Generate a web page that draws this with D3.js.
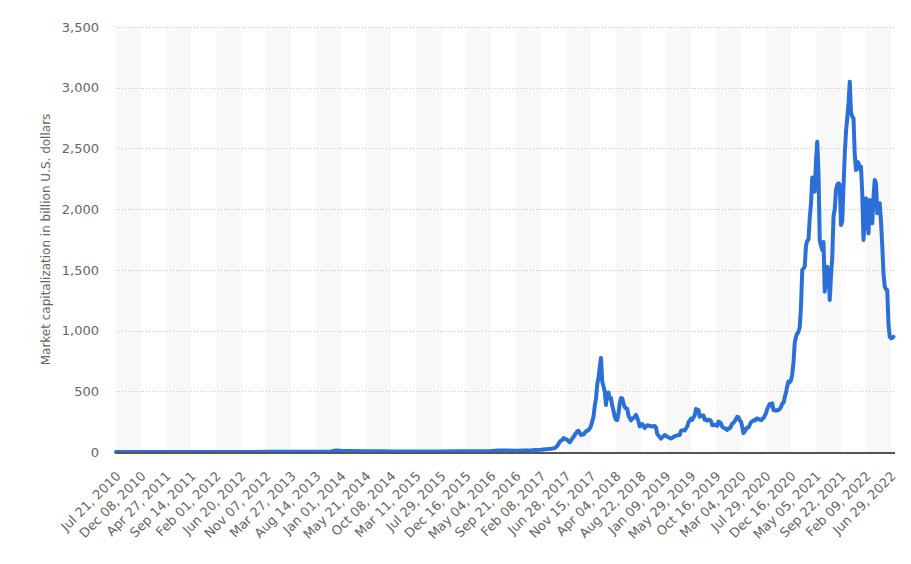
<!DOCTYPE html>
<html>
<head>
<meta charset="utf-8">
<script src="https://cdn.jsdelivr.net/npm/d3@7"></script>
<style>
  body { margin: 0; background: #fff; }
  svg { display: block; }
  text { font-family: "DejaVu Sans", Verdana, sans-serif; }
</style>
</head>
<body>
<svg id="chart" width="911" height="564"></svg>
<script>
// ---------- DATA ----------
const tickLabels = ["Jul 21, 2010","Dec 08, 2010","Apr 27, 2011","Sep 14, 2011","Feb 01, 2012","Jun 20, 2012","Nov 07, 2012","Mar 27, 2013","Aug 14, 2013","Jan 01, 2014","May 21, 2014","Oct 08, 2014","Mar 11, 2015","Jul 29, 2015","Dec 16, 2015","May 04, 2016","Sep 21, 2016","Feb 08, 2017","Jun 28, 2017","Nov 15, 2017","Apr 04, 2018","Aug 22, 2018","Jan 09, 2019","May 29, 2019","Oct 16, 2019","Mar 04, 2020","Jul 29, 2020","Dec 16, 2020","May 05, 2021","Sep 22, 2021","Feb 09, 2022","Jun 29, 2022"];
const tickDates = ["2010-07-21","2010-12-08","2011-04-27","2011-09-14","2012-02-01","2012-06-20","2012-11-07","2013-03-27","2013-08-14","2014-01-01","2014-05-21","2014-10-08","2015-03-11","2015-07-29","2015-12-16","2016-05-04","2016-09-21","2017-02-08","2017-06-28","2017-11-15","2018-04-04","2018-08-22","2019-01-09","2019-05-29","2019-10-16","2020-03-04","2020-07-29","2020-12-16","2021-05-05","2021-09-22","2022-02-09","2022-06-29"];
const yTicks = [0, 500, 1000, 1500, 2000, 2500, 3000, 3500];
const yTitle = "Market capitalization in billion U.S. dollars";

const weekDates = ["2010-07-21","2010-12-08","2011-04-27","2011-06-08","2011-09-14","2012-02-01","2012-06-20","2012-11-07","2013-03-27","2013-04-10","2013-06-19","2013-08-14","2013-11-06","2013-12-04","2014-01-01","2014-02-26","2014-05-21","2014-08-13","2014-10-08","2015-01-14","2015-03-11","2015-07-29","2015-11-04","2015-12-16","2016-05-04","2016-06-15","2016-09-21","2016-12-21","2017-01-04","2017-02-08","2017-03-08","2017-04-05","2017-04-26","2017-05-10","2017-05-24","2017-06-07","2017-06-14","2017-06-28","2017-07-05","2017-07-19","2017-08-02","2017-08-16","2017-08-30","2017-09-06","2017-09-20","2017-10-04","2017-10-18","2017-11-01","2017-11-08","2017-11-15","2017-11-29","2017-12-06","2017-12-13","2017-12-20","2017-12-27","2018-01-03","2018-01-10","2018-01-17","2018-01-24","2018-01-31","2018-02-07","2018-02-14","2018-02-21","2018-02-28","2018-03-07","2018-03-14","2018-03-21","2018-03-28","2018-04-04","2018-04-11","2018-04-18","2018-04-25","2018-05-02","2018-05-09","2018-05-16","2018-05-23","2018-05-30","2018-06-06","2018-06-13","2018-06-20","2018-06-27","2018-07-04","2018-07-11","2018-07-18","2018-07-25","2018-08-01","2018-08-08","2018-08-15","2018-08-22","2018-08-29","2018-09-05","2018-09-12","2018-09-19","2018-09-26","2018-10-10","2018-10-24","2018-11-07","2018-11-14","2018-11-21","2018-11-28","2018-12-05","2018-12-12","2018-12-19","2018-12-26","2019-01-02","2019-01-09","2019-01-16","2019-01-30","2019-02-06","2019-02-13","2019-02-27","2019-03-13","2019-03-27","2019-04-03","2019-04-17","2019-04-24","2019-05-08","2019-05-15","2019-05-22","2019-05-29","2019-06-05","2019-06-12","2019-06-19","2019-06-26","2019-07-03","2019-07-10","2019-07-17","2019-07-24","2019-07-31","2019-08-07","2019-08-14","2019-08-21","2019-08-28","2019-09-04","2019-09-11","2019-09-18","2019-09-25","2019-10-02","2019-10-09","2019-10-16","2019-10-23","2019-10-30","2019-11-06","2019-11-13","2019-11-20","2019-11-27","2019-12-04","2019-12-11","2019-12-18","2019-12-25","2020-01-01","2020-01-08","2020-01-15","2020-01-22","2020-01-29","2020-02-05","2020-02-12","2020-02-19","2020-02-26","2020-03-04","2020-03-11","2020-03-18","2020-03-25","2020-04-01","2020-04-08","2020-04-15","2020-04-22","2020-04-29","2020-05-06","2020-05-13","2020-05-20","2020-05-27","2020-06-03","2020-06-10","2020-06-17","2020-06-24","2020-07-01","2020-07-08","2020-07-15","2020-07-22","2020-07-29","2020-08-05","2020-08-12","2020-08-19","2020-08-26","2020-09-02","2020-09-09","2020-09-16","2020-09-23","2020-09-30","2020-10-07","2020-10-14","2020-10-21","2020-10-28","2020-11-04","2020-11-11","2020-11-18","2020-11-25","2020-12-02","2020-12-09","2020-12-16","2020-12-23","2020-12-30","2021-01-06","2021-01-13","2021-01-20","2021-01-27","2021-02-03","2021-02-10","2021-02-17","2021-02-24","2021-03-03","2021-03-10","2021-03-17","2021-03-24","2021-03-31","2021-04-07","2021-04-14","2021-04-21","2021-04-28","2021-05-05","2021-05-12","2021-05-19","2021-05-26","2021-06-02","2021-06-09","2021-06-16","2021-06-23","2021-06-30","2021-07-07","2021-07-14","2021-07-21","2021-07-28","2021-08-04","2021-08-11","2021-08-18","2021-08-25","2021-09-01","2021-09-08","2021-09-15","2021-09-22","2021-09-29","2021-10-06","2021-10-13","2021-10-20","2021-10-27","2021-11-03","2021-11-10","2021-11-17","2021-11-24","2021-12-01","2021-12-08","2021-12-15","2021-12-22","2021-12-29","2022-01-05","2022-01-12","2022-01-19","2022-01-26","2022-02-02","2022-02-09","2022-02-16","2022-02-23","2022-03-02","2022-03-09","2022-03-16","2022-03-23","2022-03-30","2022-04-06","2022-04-13","2022-04-20","2022-04-27","2022-05-04","2022-05-11","2022-05-18","2022-05-25","2022-06-01","2022-06-08","2022-06-15","2022-06-22","2022-06-29","2022-07-06","2022-07-13"];

const marketCap = [0.1,0.2,0.5,1.0,0.4,0.5,0.7,1.2,1.5,2.5,1.5,1.8,5,13,10,8,7,6.5,5,3.5,3.8,4.5,5.5,7,9,12,11,14,17,18,22,26,32,50,85,100,115,105,100,80,110,140,170,175,140,145,170,180,195,215,290,380,440,560,610,700,775,580,540,500,387,480,490,440,445,380,340,290,265,263,320,400,445,440,400,370,360,355,300,280,260,275,280,290,305,280,250,210,222,230,215,197,210,220,215,210,215,200,150,135,125,110,120,130,140,135,125,115,112,118,130,138,140,175,180,178,210,245,260,275,265,285,300,355,340,345,290,300,300,300,265,270,258,265,265,255,222,220,225,222,215,250,245,235,208,200,195,190,181,195,195,210,235,240,255,270,290,285,260,250,210,156,165,185,200,200,215,240,250,255,263,260,275,275,270,265,262,275,280,300,320,355,375,395,385,400,345,345,340,345,345,355,370,400,405,450,490,545,580,575,590,640,740,900,950,975,990,1030,1200,1500,1510,1530,1700,1740,1750,1930,2050,2260,2200,2144,2400,2555,2300,1746,1700,1663,1730,1320,1450,1526,1471,1252,1450,1600,1938,2000,2157,2200,2213,2199,1869,1900,2185,2450,2638,2750,2871,3050,2800,2761,2748,2450,2322,2391,2380,2330,2350,2130,1746,1900,2089,2000,1801,2075,1950,1883,2100,2240,2213,1966,2000,2048,1900,1700,1471,1361,1340,1334,1050,949,936,940,949];

// ---------- LAYOUT ----------
const W = 911, H = 564;
const margin = { left: 116, right: 16, top: 27, bottom: 112 };
const plotRight = W - margin.right;
const plotBottom = H - margin.bottom;
const step = 25; // pixels per labelled interval

const parse = d3.utcParse("%Y-%m-%d");
const tDates = tickDates.map(parse);
const series = weekDates.map((d, i) => ({ date: parse(d), value: marketCap[i] }));

const x = d3.scaleUtc()
  .domain(tDates)
  .range(tDates.map((d, i) => margin.left + i * step));
const y = d3.scaleLinear().domain([0, 3500]).range([plotBottom, margin.top]);

const svg = d3.select("#chart");
svg.append("rect").attr("width", W).attr("height", H).attr("fill", "#fff");

// alternating column bands
const bandIdx = d3.range(0, tDates.length, 2);
svg.append("g").selectAll("rect").data(bandIdx).join("rect")
  .attr("x", i => x(tDates[i]))
  .attr("y", y(3500))
  .attr("width", i => (i + 1 < tDates.length ? x(tDates[i + 1]) : plotRight) - x(tDates[i]))
  .attr("height", y(0) - y(3500))
  .attr("fill", "#f8f8f8");

// gridlines
svg.append("g").selectAll("line").data(yTicks.filter(v => v > 0)).join("line")
  .attr("x1", margin.left).attr("x2", plotRight)
  .attr("y1", d => Math.round(y(d)) + 0.5).attr("y2", d => Math.round(y(d)) + 0.5)
  .attr("stroke", "#c8c8c8").attr("stroke-width", 1)
  .attr("stroke-dasharray", "1,2");

// y axis
const yAxis = svg.append("g")
  .attr("transform", `translate(${margin.left},0)`)
  .call(d3.axisLeft(y).tickValues(yTicks).tickFormat(d3.format(",")).tickSize(0).tickPadding(17));
yAxis.select(".domain").remove();
yAxis.selectAll("text").attr("fill", "#666").style("font-size", "13px");

// y title
svg.append("text")
  .attr("transform", `translate(50,${(y(0) + y(3500)) / 2}) rotate(-90)`)
  .attr("text-anchor", "middle")
  .attr("fill", "#666")
  .style("font-size", "12px")
  .text(yTitle);

// x axis labels
const xAxis = svg.append("g")
  .attr("transform", `translate(0,${plotBottom})`)
  .call(d3.axisBottom(x).tickValues(tDates).tickFormat((d, i) => tickLabels[i]).tickSize(0));
xAxis.select(".domain").remove();
xAxis.selectAll("text")
  .attr("x", 0).attr("y", 0).attr("dy", 0)
  .attr("text-anchor", "end")
  .attr("transform", "translate(5,25) rotate(-45)")
  .attr("fill", "#666")
  .style("font-size", "13px");

// line
const line = d3.line().x(d => x(d.date)).y(d => y(d.value));
svg.append("path").datum(series)
  .attr("d", line)
  .attr("fill", "none")
  .attr("stroke", "#2b70d9")
  .attr("stroke-width", 4)
  .attr("stroke-linejoin", "round")
  .attr("stroke-linecap", "round");

// baseline
svg.append("line")
  .attr("x1", margin.left).attr("x2", plotRight)
  .attr("y1", plotBottom + 1).attr("y2", plotBottom + 1)
  .attr("stroke", "#555").attr("stroke-width", 2);
</script>
</body>
</html>
